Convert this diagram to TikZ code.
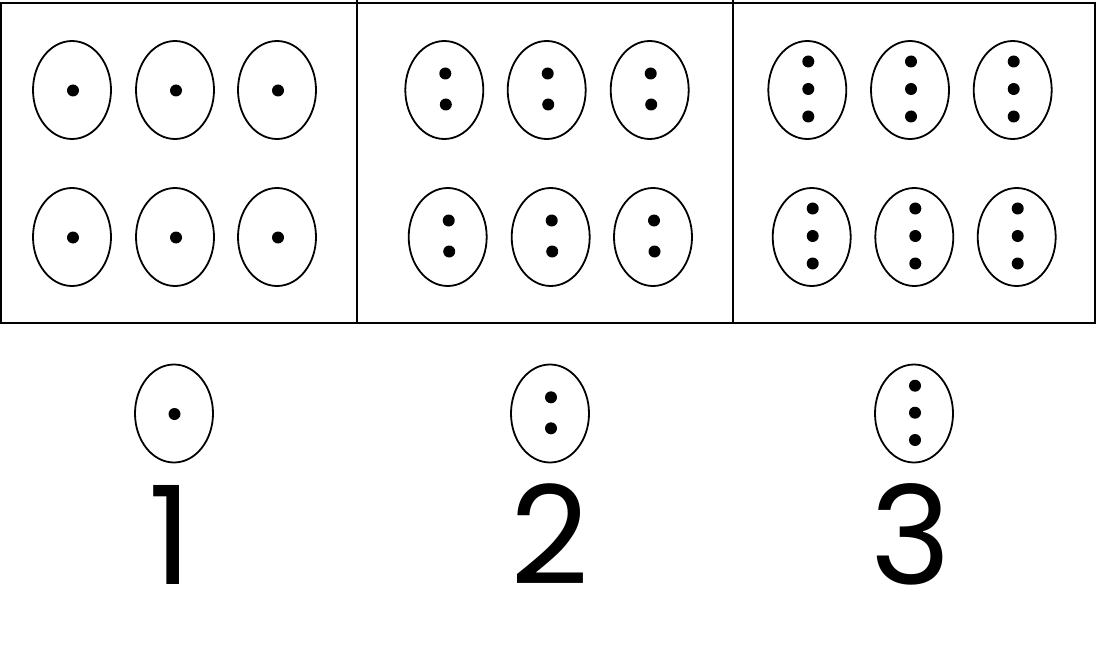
\documentclass[tikz,border=0pt]{standalone}
\usepackage{fontspec}
\setmainfont{Poppins}
\usetikzlibrary{shapes.geometric}
\begin{document}
\begin{tikzpicture}[x=1pt,y=-1pt,
  egg/.style={draw, ellipse, line width=1.8pt, minimum width=78pt, minimum height=98pt, inner sep=0pt},
  dot/.style={fill, circle, inner sep=0pt, minimum size=12pt},
  frame/.style={line width=1.8pt},
  numlabel/.style={anchor=base, inner sep=0pt, font=\fontsize{137}{137}\selectfont}]
\useasboundingbox (0,0) rectangle (1097,655);
% frame
\coordinate (tl) at (1,2.7);
\coordinate (br) at (1095,322.7);
\coordinate (d1t) at (356.7,0);
\coordinate (d1b) at (356.7,322.7);
\coordinate (d2t) at (733.3,0);
\coordinate (d2b) at (733.3,322.7);
\draw[frame] (tl) rectangle (br);
\draw[frame] (d1t) -- (d1b);
\draw[frame] (d2t) -- (d2b);
% panel 1: one dot
\foreach \x/\y [count=\i] in {72/90,175/90,277/90,72/237,175/237,277/237}{
  \node[egg] (a\i) at (\x,\y) {};
  \node[dot] (a\i d1) at (\x+1,\y+0.5) {};
}
% panel 2: two dots
\foreach \x/\y [count=\i] in {444.3/90,546.7/90,649.7/90,447.7/237,550.7/237,653/237}{
  \node[egg] (b\i) at (\x,\y) {};
  \node[dot] (b\i d1) at (\x+1,\y-16.5) {};
  \node[dot] (b\i d2) at (\x+1.5,\y+14.5) {};
}
% panel 3: three dots
\foreach \x/\y [count=\i] in {807.3/90,910/90,1012.7/90,811.7/237,914.3/237,1016.7/237}{
  \node[egg] (c\i) at (\x,\y) {};
  \node[dot] (c\i d1) at (\x+1,\y-28.5) {};
  \node[dot] (c\i d2) at (\x+1,\y-1) {};
  \node[dot] (c\i d3) at (\x+1,\y+26.5) {};
}
% legend
\node[egg] (e1) at (174,413.5) {};
\node[dot] (e1d1) at (174.5,414) {};
\node[egg] (e2) at (550,413.5) {};
\node[dot] (e2d1) at (551,397.3) {};
\node[dot] (e2d2) at (551,428.3) {};
\node[egg] (e3) at (914,413.5) {};
\node[dot] (e3d1) at (915,385.7) {};
\node[dot] (e3d2) at (915,412.7) {};
\node[dot] (e3d3) at (915,440) {};
\node[numlabel] (n1) at (170,584.3) {1};
\node[numlabel] (n2) at (550,584.3) {2};
\node[numlabel] (n3) at (911,584.3) {3};
\end{tikzpicture}
\end{document}
